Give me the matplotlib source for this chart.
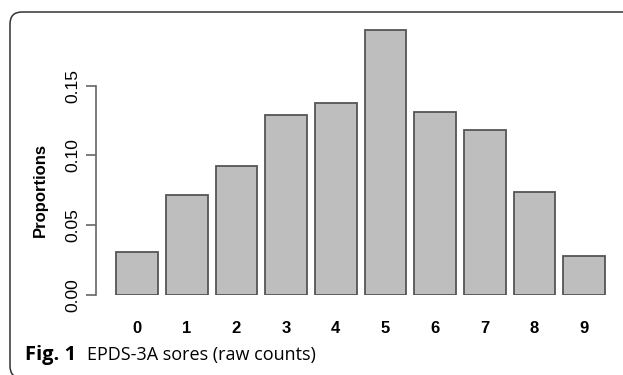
import matplotlib
matplotlib.use("Agg")
import matplotlib.pyplot as plt
from matplotlib.patches import FancyBboxPatch

# EPDS-3A scores and their proportions
scores = ["0", "1", "2", "3", "4", "5", "6", "7", "8", "9"]
proportions = [0.0304, 0.0713, 0.0921, 0.1287, 0.1375, 0.1899, 0.1310, 0.1184, 0.0735, 0.0275]
yticks = [0.00, 0.05, 0.10, 0.15]
ytick_labels = ["0.00", "0.05", "0.10", "0.15"]

W, H = 623, 375
fig = plt.figure(figsize=(W / 100, H / 100), dpi=100)

# axes placed in pixel terms (left spine at x=96, zero line at y=295)
ax = fig.add_axes([96 / W, (H - 294.7) / H, 523 / W, 0.2 * 1394 / H])
x = list(range(len(scores)))
ax.bar(x, proportions, width=0.84, color="#bebebe", edgecolor="#555555", linewidth=1.3)
ax.set_xlim(-0.825, 9.7)
ax.set_ylim(0, 0.2)

for s in ["top", "right", "bottom"]:
    ax.spines[s].set_visible(False)
ax.spines["left"].set_bounds(0, 0.15)
ax.spines["left"].set_color("#666666")
ax.spines["left"].set_linewidth(1.2)

ax.set_yticks(yticks)
ax.set_yticklabels(ytick_labels, rotation=90, va="center", family="Liberation Sans", fontsize=12.5)
ax.tick_params(axis="y", length=7, width=1.2, color="#666666", pad=4)
ax.set_xticks(x)
ax.set_xticklabels(scores, family="Liberation Sans", fontweight="bold", fontsize=12)
ax.tick_params(axis="x", length=0, pad=19)
ax.set_ylabel("Proportions", family="Liberation Sans", fontweight="bold", fontsize=12)
ax.yaxis.set_label_coords(-0.092, 0.375)

# rounded frame around figure, running off the right and bottom edges
frame = FancyBboxPatch((0.10, -0.03), 7.0, 3.66, boxstyle="round,pad=0,rounding_size=0.12",
                       transform=fig.dpi_scale_trans, facecolor="none", edgecolor="#333333",
                       linewidth=1.1, clip_on=False)
fig.patches.append(frame)

fig.text(25 / W, 15 / H, "Fig. 1", family="Open Sans", fontweight="bold", fontsize=14.5, va="baseline")
fig.text(87 / W, 15 / H, "EPDS-3A sores (raw counts)", family="Open Sans", fontsize=13, va="baseline")

fig.savefig("out.png", dpi=100)
